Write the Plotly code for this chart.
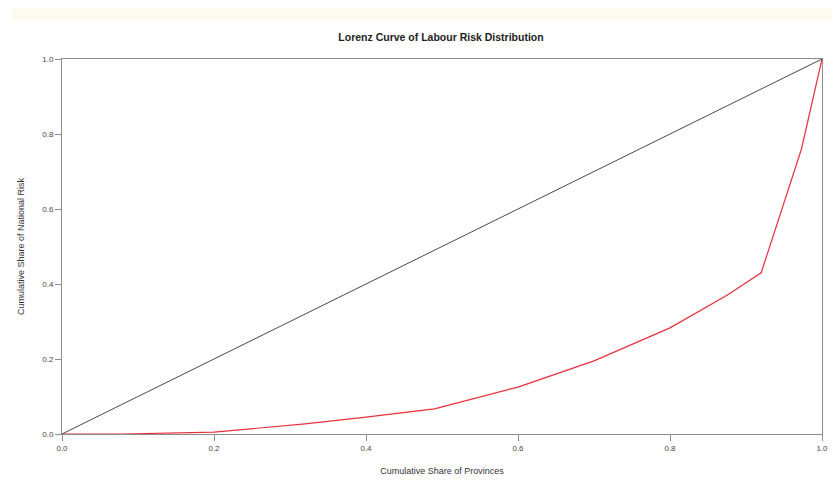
import plotly.graph_objects as go

# Lorenz curve values
cum_share_provinces = [0.0, 0.08, 0.2, 0.32, 0.4, 0.49, 0.6, 0.7, 0.8, 0.875, 0.92, 0.973, 1.0]
cum_share_risk = [0.0, 0.0, 0.005, 0.027, 0.045, 0.067, 0.125, 0.195, 0.283, 0.37, 0.43, 0.76, 1.0]

equality_x = [0.0, 1.0]
equality_y = [0.0, 1.0]

tick_vals = [0.0, 0.2, 0.4, 0.6, 0.8, 1.0]
tick_text = ["0.0", "0.2", "0.4", "0.6", "0.8", "1.0"]

title_text = "Lorenz Curve of Labour Risk Distribution"
x_title = "Cumulative Share of Provinces"
y_title = "Cumulative Share of National Risk"

font_family = "Liberation Sans, Arial, sans-serif"
axis_col = "#8c8c8c"

# page body adds an 8px offset; compensate
OFF = 8
W, H = 840 - OFF, 491 - OFF
L, T, R, B = 58 - OFF, 59 - OFF, 16, 57
PW, PH = W - L - R, H - T - B

fig = go.Figure()
fig.add_trace(go.Scatter(
    x=cum_share_provinces, y=cum_share_risk, mode="lines",
    line=dict(color="#e8303a", width=1.2), showlegend=False, cliponaxis=False))
fig.add_trace(go.Scatter(
    x=equality_x, y=equality_y, mode="lines",
    line=dict(color="#4a4a4a", width=1), showlegend=False, cliponaxis=False))

axis_common = dict(
    range=[0, 1], showgrid=False, zeroline=False,
    showline=True, linecolor=axis_col, linewidth=1, mirror=True,
    ticks="outside", ticklen=6, tickcolor=axis_col, tickwidth=1,
    tickvals=tick_vals, ticktext=tick_text,
    tickfont=dict(family=font_family, size=8, color="#444444"),
)

fig.update_layout(
    width=W, height=H,
    margin=dict(l=L, r=R, t=T, b=B),
    paper_bgcolor="white", plot_bgcolor="white",
    title=dict(text="<b>" + title_text + "</b>", x=(441 - OFF) / W, xanchor="center",
               y=1 - (37 - OFF) / H, yanchor="middle",
               font=dict(family=font_family, size=10.5, color="#222222")),
    xaxis=dict(**axis_common, title=dict(text=x_title, standoff=16,
               font=dict(family=font_family, size=9, color="#333333"))),
    yaxis=dict(**axis_common, title=dict(text=y_title, standoff=16,
               font=dict(family=font_family, size=9, color="#333333"))),
    shapes=[dict(type="rect", xref="paper", yref="paper",
                 x0=-L / PW, x1=1 + R / PW,
                 y0=1 + (T - (20 - OFF)) / PH, y1=1 + T / PH,
                 fillcolor="#fbfbef", line=dict(width=0), layer="below")],
)

fig.write_html("out.html")
